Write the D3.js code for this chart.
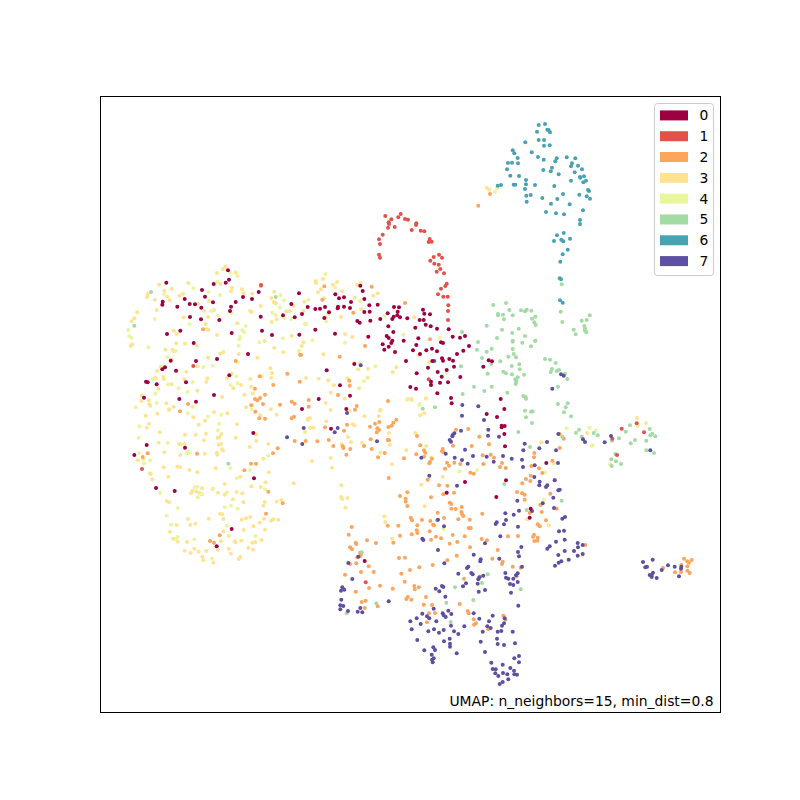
<!DOCTYPE html>
<html>
<head>
<meta charset="utf-8">
<script src="https://cdnjs.cloudflare.com/ajax/libs/d3/7.8.5/d3.min.js"></script>
<style>html,body{margin:0;padding:0;background:#fff}svg{display:block}text{font-family:"DejaVu Sans",sans-serif;font-size:13.89px;fill:#000}</style>
</head>
<body>
<svg id="chart" width="800" height="800"></svg>
<script>
const categories = ["0","1","2","3","4","5","6","7"];
const colors = ["#9e0142","#e25249","#fca55d","#fee491","#e9f69d","#a4daa4","#49a2b2","#5e4fa2"];
const title = "UMAP: n_neighbors=15, min_dist=0.8";
const xDomain = [0,620];
const yDomain = [0,616];

const points0 = [[128,174.3],[66.3,186.7],[113.7,188],[125.7,186.7],[129,183.7],[102,194],[158.7,196],[199,197.3],[105,200.7],[84.7,203],[143,201],[152,203],[62.7,205.7],[62.3,208.7],[89.7,208],[95,208.3],[113,206.3],[135.7,206],[77.3,210.7],[101.3,211.7],[131,210.7],[130,215],[191.3,208],[90,221],[101,223.3],[119.3,224],[160.7,220.7],[183,219.3],[194.7,221.3],[80.3,234.7],[67,238],[131.7,237],[162,234.7],[172,239],[199.3,238.7],[93.7,247],[148,258],[96,265],[117,263],[70.7,264.7],[65,271.3],[62.3,273.3],[76,274.7],[129.3,279.3],[46,285.7],[47.7,286.3],[56.7,288.3],[86,286.3],[79.3,303],[114,299],[96,305.7],[44,301.7],[153.3,337],[46.7,349],[85,351.7],[34.3,359],[154,382.3],[56,392],[74.7,395],[131.7,433],[116.7,450.3],
[235.3,198.3],[239,202.3],[244,201.3],[262.7,195],[260.3,189.7],[251,206],[264.3,203],[277.7,208.7],[269.3,209.3],[250,212],[238,210.7],[237.7,212.3],[244,210.7],[225,211],[220,212.7],[215.3,213],[207.7,211],[202,218],[229,216.3],[224.3,222],[264.3,216],[269.7,215.7],[287.7,217.3],[294,211],[299,211.3],[297.7,215.7],[293.7,220.7],[292.3,223],[297.3,219.3],[300,221.3],[307.3,222.3],[280.3,223],[257.3,225],[259.7,226.7],[270.3,224.7],[323,213.7],[324.3,217.7],[330,218.3],[319.7,224],[323.7,224],[325.7,228.7],[330.7,230.3],[337,232.7],[348.7,233.3],[315.3,231.7],[288.3,230.3],[293.3,236],[215.3,233.7],[235,237.7],[268.3,240.7],[286.7,240],[288.7,242],[318.3,242.3],[352.7,240.7],[360,241.7],[365,240],[303.7,244.7],[292.3,244.7],[291.3,247],[282.7,248.3],[288.7,250.7],[284.3,253.7],[295,256],[316.3,249],[313,254.3],[326.3,254.3],[332,252.7],[337,255.3],[341,246.3],[343,247],[369,250],[363.3,254.7],[357,258],[320,258],[306,265],[332.3,265],[342,262.3],[343,264.7],[349.3,263],[353,264.7],[354,270.7],[328,271.7],[337.7,276],[346.7,274],[316.7,277.3],[341.7,280.7],[360.3,281],[383.3,270.7],[388.7,264.3],[226.7,274.3],[240,289.3],[250,299.7],[218.7,303],[331,285.7],[331,289],[340,286.7],[348,286.3],[310.3,291],[316,292.7],[337.3,297.3],[351,302],[254.3,268],
[202,313],[246.3,313],[231,332.7],[351.7,307.3],[365,386],[346.7,396.7],[392,265.3],[400.7,303],[404.3,313],[386.7,318],[397,321],[401.7,329.7],[404.7,330],[401.7,331.3],[404.3,338],[405,350.3],[446.3,367],[406,384.3],[396.3,401],[430.7,412.7],[429.7,421.7],[264.7,465]];

const points1 = [[161,189],[285.3,120],[300.7,118],[298.3,121.3],[305,123],[308,123.7],[291.3,123.3],[288.7,126.3],[289,128],[288,131.7],[294.7,131],[316.3,127.3],[316,129],[311.7,134],[320.7,134.7],[324.3,135.3],[282.7,138.7],[279,143.3],[280,148],[329.7,143],[328.7,146],[331.7,145.7],[279,158.7],[280,161.7],[339,158.7],[342,161.7],[333.7,161],[330.3,164.7],[334.3,167.7],[338.7,168.7],[340.3,173],[336.7,175.7],[344,177.3],[346.7,187.7],[345.3,190],[341,192.7],[338,198.3],[343.3,200.7],[347.7,200.7],[348.3,209.3],[348,215],[348,224],[328.7,283.3],[93.3,270],[42,373],[512.3,342.7],[521.7,332.7],[536.7,327.3],[544,336.3],[517,359],[265.7,486.3]];

const points2 = [[161,190],[103,233.3],[135.7,265],[159.7,280.3],[187.3,277.7],[173.3,289],[155,292.7],[165,298.7],[160,302],[155,303],[157.3,304.3],[88,308],[151.3,309.3],[163,308],[180,308.7],[191.7,305.7],[194.7,307.7],[200,258.7],[80,315.3],[159.3,322.3],[165,322.7],[155.3,315.7],[191.7,322.3],[194,320.7],[194.7,345],[177.7,352.3],[173,357.3],[97,357.7],[47.7,357.3],[42.7,361],[151,367.7],[156,367.7],[144.3,374.3],[168.3,395.7],[182.7,407.3],[166,417.7],[119.7,439.3],[110,445],[114,446.7],
[378.3,109.7],[271.7,190.7],[224.3,190.3],[222.3,203.7],[305,207],[253.3,216.7],[330,243.3],[265,250],[201,259],[239.7,260.7],[199.7,285.7],[249.3,284.7],[249.7,289.7],[238,299],[208.7,304],[208.7,310.7],[256.7,310],[255,313.7],[288,305],[247,328.7],[225,331.3],[244,334.7],[279.3,326],[275,327.7],[270,330.7],[277.3,332.3],[279,334],[276.7,336.3],[288.3,331],[291.7,329.7],[293.3,326.7],[296.3,323.7],[205.7,345],[217.3,345.3],[228.7,344],[233.3,350],[242.7,350.3],[243.3,352],[250.3,353],[264,350],[270.7,343.3],[271.7,353],[287.7,344],[289,344.3],[246.3,358.7],[278,361.3],[284.7,357],[304,362.3],[317,340],[320.3,349.3],[324,354.3],[325.3,356.7],[316.3,358.3],[324,360.7],[332,362.7],[330,366],[329.3,367.3],[342.7,353],[342,355.3],[343.3,356],[353,349.7],[356,333.7],[368.3,333],[371.7,350],[379.3,340.7],[347,366.7],[349,369.7],[345,372.7],[354.3,366.7],[360.3,368],[370.3,376.7],[373.7,377.7],[288.7,382],[327.7,383.7],[339,389.3],[347.3,389.7],[354,396.7],[343.3,398.3],[307.3,396.3],[300,400],[331,401.3],[305.7,402.7],[305.7,405.7],[307.3,410],[349.7,406.7],[351.3,408],[351.3,412.7],[361.7,411],[355.7,413],[361.3,416],[363.3,420],[337.7,416.7],[344,422],[358.3,423.3],[369.7,423.7],[310.7,421.7],[312,424.3],[322,424],[330.3,425],[337,424.3],[333,428.7],[334,429.3],[317.3,429.3],[298.3,429.7],[287.7,429.7],[251.7,431],[368.7,432],[370.7,432],[329.7,435.3],[316.7,434.3],[311.7,438.3],[317.3,437],[300,439.7],[248.7,438.7],[267,444.3],[276,447],[255.7,446.7],[256.3,448],[250,451.3],[252,453.3],[293.3,446.7],[336,440.7],[331,443.7],[341,442.3],[352.7,439],[364.7,440.3],[357.3,446],[349.7,447.7],[370,451.3],[356.7,459.7],[299,462],[305,461.7],[261,458],[260.3,460],[257.3,461.3],
[389,348.3],[459.7,338],[463.7,342.7],[459.7,352],[390.7,358.7],[382.7,359.3],[394,361.7],[434.3,357],[434,361.3],[383.3,368],[402,367],[400,371],[405.7,372],[431.3,370],[439,372.3],[452.3,364.7],[442.3,377],[430.7,379.7],[426,383],[430.3,385],[422.3,387.3],[417,396],[422,397.3],[424.7,398.7],[424.7,403.7],[450.3,397.7],[454.7,384],[440.3,409],[456.7,412.7],[362,418],[382.3,417.7],[429.7,417],[441.7,416],[446,424.3],[437.7,428.3],[439.7,430.3],[381.7,443],[387,444.3],[408,440.3],[418,440],[434,438.7],[433,440.7],[437.7,441.7],[434.3,445],[437.3,444.7],[485.3,449],[397.7,454],[392.3,462.7],[402.7,465.7],[402,468],[412.7,470.7],[364,482.7],[380.3,480.7],[416.7,480.3],
[347.3,464.3],[332.7,469],[319.3,471.3],[310,474],[301.3,477.7],[304.7,485.7],[314.3,490],[314.7,493.3],[318.7,491.3],[292.7,492.7],[280,489.7],[269,492],[273.7,476],[268.7,470.3],[261,476],[256.3,467.3],[250,468],[245,478.7],[255.7,495.7],[260,456.7],[326,501],[307.7,501],[306.3,503],[311.3,503.7],[323.7,508.7],[332,509],[359.7,508],[265.7,504.7],[261.7,506],[264.7,512],[277.7,510.3],[329,517.3],[335,517],[327,526.3],[367.7,515],[368.7,517.3],[373.7,523.3],[376,527.3],[374,528.7],[388.3,533.3],[403.3,519.7],[405.3,523.7],[420.7,471.7],
[563,472],[584,462.7],[591.7,464],[587.3,465.3],[589,466.7],[587.3,470.3],[581.3,469],[587.3,474.7],[589.7,477],[575,476.3],[581,476],[390,98]];

const points3 = [[125.3,170.7],[123,173.3],[117,177],[135.7,176.7],[59,188.7],[88.3,187],[71.7,192.7],[120.3,188],[132,191.7],[131,195.3],[142,193.3],[143.7,197.3],[152.3,197.7],[174.3,195.7],[47.7,198],[47,201],[64.3,194.7],[67.3,200.7],[79.3,199.7],[83,197.7],[54.7,203.7],[69.7,204.3],[98.3,207.7],[109,205],[56.7,214],[37.3,216.3],[34.3,222.3],[31.7,225.3],[83.3,221.3],[104.3,215],[114,214],[108,221],[137.3,227.3],[150,215],[151.7,216],[160.7,210],[171.3,202],[173.7,206],[175.7,207.3],[186.3,215.3],[190,215.3],[193.7,209.7],[176.7,223.3],[171.7,226],[105.7,228],[106.7,233.3],[108.3,234],[73.7,234.7],[76.7,238],[117,239],[30.7,250],[32.3,248.3],[85,247.7],[76.3,247.3],[96.7,249.7],[65.3,253.7],[72.3,253.7],[74,255.3],[191.7,239.7],[164.7,245],[174.3,251.7],[183.3,256.3],[138.7,258],[123.3,256],[120.3,257.7],[108,261.7],[157.3,261.7],[71.3,263.7],[97.3,270.3],[61.7,271],[57,275],[86.3,275.7],[76.7,274.7],[132,277.7],[127,282],[107.3,282.3],[106.3,286],[63.3,281],[63.7,283],[55.7,282],[84.3,283.3],[170.3,272.3],[172,277],[171.3,281.7],[150.3,283],[151,290.7],[133.3,292.3],[141,289],[71.7,288.3],[58.3,292.7],[97.3,294.7],[122,301],[144.3,298.7],[153,297.7],[41.7,299.7],[41.3,305],[48.7,304.3],[49.3,308.3],[50.3,309.7],[66.3,307.3],[73.7,310.7],[69,313.3],[92.7,310.7],[146,311.3],
[45.7,319.7],[57.3,317.7],[69,314],[93.3,321.3],[114,316],[127.3,317.3],[105,324.7],[98.7,328.7],[137,328.3],[160.3,319.3],[170.7,313.3],[176.7,318.7],[49,327.7],[46.7,331.7],[59.7,336.3],[85,338.7],[95.7,338.7],[106,337.7],[104,344.3],[121.3,338],[117.7,341.7],[119.3,341.3],[135.7,341.7],[156.3,338.3],[156.3,345],[168.3,348],[149.7,351],[58.7,346.7],[79,348.3],[80.3,348.3],[84.7,348],[121,348],[118.7,348.7],[122,353.3],[123,354.7],[64.3,356.3],[80.3,359],[104.7,357.7],[116.7,356.7],[117.3,358.7],[38,364.3],[43.3,363],[163.3,362.7],[63.7,371.3],[77.3,370.7],[80,371.3],[89.3,374],[97.3,376.3],[115.7,372.3],[49.7,377.3],[50.7,378],[68.3,380.7],[52.3,383.3],[140.3,380.7],[168.7,376.3],[165.7,386.3],[193.7,387.3],[124.7,388],[151.3,390.3],[160.7,391],[91,397.3],[92.3,394.7],[96.3,395.3],[99.3,396.7],[102,392.3],[102,398.3],[113,392.7],[118,396.7],[124.7,398.7],[136.7,396],[142.3,397.3],[133,403.3],[143.3,406.3],[66.7,405],[69,406.3],[164.7,406],[163.3,409.7],[176.7,405.7],[181.3,404],[108.7,422.7],[88,423],[120,417.7],[122.3,418.3],[123.3,423],[141.7,423.7],[146,422.3],[150.3,421],[164,422.7],[178.3,423.7],[171.3,424.7],[173.3,423.3],[159.7,426.7],[153.3,430.3],[76.7,429],[90.3,429],[95.3,427.7],[143.7,434],[165,433.7],[123.3,435.3],[128.7,440],[70,435.7],[73,442.7],[77.7,445.7],[87,446],[120.7,445.3],[134.7,445.3],[135.3,446.3],[141.3,444.7],[152.3,446.7],[155.3,446.3],[161.3,444],[94.3,452.7],[84.7,454.7],[90.7,457],[98.7,455.7],[106.3,455],[118,454],[128.7,452.7],[130.7,457.7],[148.3,452],[153,453.7],[102.3,460.7],[103.3,464.3],[113.3,466.7],[138.7,463],[140.3,461],
[215.7,185],[216,187],[223,183],[237,186],[233,188.7],[221,193.3],[218,196.3],[242.3,195.3],[257.3,188.7],[277.7,197.3],[273,199.7],[254.7,201.7],[224.3,202.3],[204.3,205.7],[243.3,210.7],[261,213.3],[203.3,214.7],[241,221],[226,221.3],[314.3,221.3],[206,228],[245,238.3],[252.3,241],[203.3,246.3],[201.7,250],[223.3,258.3],[258.3,273.3],[268,272.7],[296.3,271.3],[292.7,276.3],[206,282],[218.7,282.7],[228.3,284.3],[247.3,282.3],[267.7,281.7],[233.7,289.3],[259,292.3],[230.7,296.7],[244.7,302.7],[307.7,303],[311.3,303],[326,302.3],[260,267.3],[254.3,267.3],[329.3,266.3],[318.3,259],
[225.7,307],[230.7,314],[249.7,315],[264.3,320.3],[278.7,320],[280.7,313.7],[280,314.7],[207.7,322.7],[210,322],[208,324],[226.3,325.3],[252.7,328.3],[254.3,329.3],[210.3,331.7],[213.3,331.7],[205,336],[289,337],[248,341],[251,346],[241.7,348.3],[262,346.7],[290,348.7],[315.3,337],[326,350],[306.3,354.3],[280.3,356.7],[230.7,362],[212,365],[292,368.3],[232,371.7],[331,361.7],[342.7,380.7],[321.3,388.7],[241.3,389.3],[241,401],[242,403],[247.3,402],[245.3,411.7],[324.7,410.3],[284.3,420.3],[285.3,426],[292,442.7],[320.3,319.3],[324.3,317.3],[325.7,302.7],[311.7,304],
[441.3,346.3],[453.7,367.3],[492,349.7],[487,337],[537,322],[546,327.3],[537.7,329.7],[510.3,368.3],[427.3,423.3],[448.7,429.3],[386.7,91.7],[389.3,93.7]];

const points4 = [[130.3,176.3],[137.3,180],[117.3,185.7],[93.3,192.3],[108.3,195.7],[120,199],[64.3,198],[180.3,199],[184,204.3],[180,211.7],[172.3,216.7],[175.7,219],[191.3,223],[184.3,221.7],[111,215.3],[131.3,217.3],[118.3,219.7],[54.7,223],[89.7,228],[145.7,230],[142.3,234.3],[144.3,236.3],[140.3,241],[139.3,243.3],[28.3,234],[29.3,240],[31.3,241.7],[48.3,251.3],[159.3,246.3],[182.7,242.3],[138.7,249.7],[75.7,255],[67.3,261],[198.7,255.3],[137.7,266.3],[112.7,269.7],[103.3,271],[60.3,271],[53,283],[68,288.3],[92.7,286],[78.7,292.3],[87.7,295.7],[55.3,297.7],[130.7,289.3],[136.3,280.3],[137.7,287.3],[162,280.3],[56.7,307],[35.7,311.3],
[108,320.7],[87.7,317.3],[121.3,318.7],[119,327.7],[118,334.3],[39.3,330.3],[38.7,341.7],[67.7,346.7],[151.7,313.3],[39,357],[44,367.3],[50,364.3],[86.7,357.3],[88,355.7],[88.7,357.3],[168.3,359.7],[130.3,372],[150,374],[136.7,382.3],[60.3,396.7],[94.7,391.3],[97.3,390.7],[112.3,393],[97.7,401.3],[101,398.3],[127,396.3],[165,393.3],[77.7,412],[124.7,411.3],[131,409.7],[137.7,412.7],[66.7,419.7],[71,428.7],[127,429.7],[77.7,441],[75.7,442.7],[94.3,443.3],[155.3,440],[112,462.7],
[225.3,178],[235,191.3],[260.7,186.7],[208.3,203.7],[260,205],[228.3,218],[226.3,225.3],[284.3,219.7],[205,228],[212.3,244.3],[245,246.7],[303.3,238.7],[199.3,255],[264,285.3],[275.3,270.3],[346.7,276.7],[340,241.7],[307,303.7],[319.7,308],[319.3,309.3],[359.3,375.3],[377,374.3],[343.3,433.3],[466.7,332.3],[489.7,331.7],[496,334.3],[492.7,349.3],[445,376.7],[443.7,404],[482.3,460],[395,96],[397,92.3]];

const points5 = [[51,196],[34.3,229.7],[175.7,201],[128.3,367.7],[386.7,229.7],[362,236],[378,246],[377,253.7],[386.7,255.7],[382,262],[361,270.3],[387.7,277.7],[374,290.7],[362.7,298],[384.3,295],[335,311.3],[322.7,312.7],[261.7,456.3],[276.3,507.3],[246.7,517.3],[355,491.3],[346.3,506.7],[350.7,526],[373.3,504],[387.7,478.3],[382,487],[420.7,493.3],
[391.7,252.7],[391.3,268],[400.3,265.3],[408.3,260.7],[413.7,258],[416,261.3],[412.7,244.7],[412.7,253],[422.3,246.7],[431,250.3],[435.3,244.7],[411.7,270],[419.3,268.3],[419.7,273.3],[403.3,275.7],[406,277.3],[412,278.3],[424,278.7],[417.7,281.3],[415.3,283.3],[416.3,284.7],[415.7,288],[416,286.3],[445,263],[450,263.7],[455.7,267],[452,273],[450.7,276],[456.7,275],[459,274],[465,277.7],[467.3,283],[458,290.7],[391.7,290.7],[407.3,296.7],[423.3,300],[425.7,301],[426,302.7],[458,308],[467.7,307.3],[465.7,311.3],[464,316.3],[425,314.7],[431,315.7],[432.7,315.3],[426,321.3],[432,327],[471,320.3],[418.3,336],[430,351],[462.3,340.7],[479,333.7],[476,336.7],[493.7,337],[497.7,339.3],[481.7,340.7],[530,329.3],[525.7,335.7],[519,342.3],[512,344.7],[535,344],[530.7,347.3],[549.7,333],[552.3,337.7],[550.3,339.3],[555.3,340.3],[546.3,344.7],[546.3,354.3],[554,357],[515.3,358],[511.3,363.3],[516,365.3],[521,368],[511.7,370],[404.3,388],[461.7,404.7],[426.7,414],
[461.7,188.3],[460.7,215.7],[462.3,226],[393.3,209],[406,207],[398,218],[398,219.3],[403,218.7],[409.3,214],[412.7,219.3],[421,214.3],[425,215.3],[426.7,213.7],[431.3,214.7],[435.3,220.7],[432,222.7],[404,223.3],[434.3,226.3],[435.7,229],[402,233.7],[418.7,232.7],[412.3,237],[425,240],[397,242],[412.7,245.7],[435.3,244.7],[489.7,219.3],[486.7,224],[481.7,224.7],[484.3,230],[485,232.3],[484.7,234.3],[486.3,236.3],[473.7,233.7],[475.7,238.3]];

const points6 = [[438.7,29],[445,28],[447.3,33.7],[448.7,34],[437,35.7],[450,36.3],[438.7,44],[444,44],[425.3,46.3],[444,49.7],[449.7,49.3],[412.7,54.3],[414.3,57.3],[431.7,56.3],[417.7,62],[438,61],[443.7,63.7],[456.7,62.3],[455.3,65.3],[466.7,61.3],[475.3,62.3],[408,67],[412,66.7],[418,67.3],[472,67.3],[471,70.3],[478,69.7],[407,73.3],[452,71.7],[443.3,74],[450.7,75.3],[482,73.3],[474.7,76.3],[458.7,78.3],[410.3,79.7],[419,80],[480,81],[480.3,81.7],[484,80.3],[426,84],[471,84.7],[486,84.7],[483.3,86.3],[426,88.3],[413.7,88.7],[415.3,88.7],[435,89],[454.3,90],[401,89],[397.7,89.7],[425,93],[488,94],[489,95],[463,98],[426.3,99.7],[430.7,99],[479.3,98.7],[486.7,100.3],[490,102.7],[442.3,102],[457.3,103],[426.7,105.7],[451,107.7],[469.7,108.3],[483,114.3],[446,116],[456,117.3],[464,118.3],[480,124],[480,128],[463.7,137],[457,139.3],[461.3,143.7],[463.3,145.3],[454,145],[470,142.7],[467.7,153.7],[462.7,158.3],[460.3,165.7],[459.7,182.3],[461,183.3],[460,204.3],[462.7,206.7]];

const points7 = [[187,341.3],[260.7,269.3],[334.3,265],[247,317],[203.7,332],[237.7,332],[234.7,336.3],[202.3,348],[277,345.3],[362.3,309],[378.3,310.3],[362,319.7],[361,334.7],[354.3,337.3],[352.7,339],[352.3,340.3],[349.7,344],[351,345.7],[345.7,357.7],[365,353.7],[354.7,361.7],[373,360],[362,364],[367.7,367.7],[321.3,361.7],[329.3,379.7],[357,389.7],[338,423.7],[344,430.3],[322.3,442.7],[323.3,444],[338,454],[373.7,458.7],[258.3,460.7],
[461,278.3],[463.7,279.7],[452.3,292.7],[384,324],[388.3,333.7],[388,339.7],[399,340.7],[424.7,347.7],[423.3,354.3],[439.3,352.3],[447,346],[456,354.3],[458.3,338],[483,343.3],[485,346],[504.7,346.3],[511,340],[550.3,354.3],[386.7,360.7],[403,360],[393.7,365.7],[411.7,362.7],[422,363.7],[423,371],[434.7,369.3],[458,367],[434.3,381],[439.7,385.7],[439.3,389.3],[454.7,384.3],[447.3,389.3],[446,391],[458.3,394.3],[459.7,393.7],[453.3,401.7],[417.3,404.7],[442.7,407.3],[454,412],[432,415],[419,414.7],[405.3,417.3],[413.7,418.7],[406,424],[396.7,426.3],[395.7,428],[404,428.3],[418,430.7],[465,421],[462.3,422.7],[459,435.3],[464,434.7],[400.3,440.3],[464.7,443.7],[456,445.7],[449.7,450.3],[447.3,452.7],[421.3,451],[385,447.3],[418,456],[419,460.3],[380.7,463.3],[380.3,465.3],[399.3,462.7],[458.3,459],[464.7,455],[477.7,447],[478,451.3],[482.7,449],[474,455],[477.7,459.7],[482.7,458],[468.7,463.7],[461.3,465.3],[458.7,466.7],[455,469.7],[368.3,470.7],[367,472],[422,470.7],[358.3,477.7],[371.3,477],[372.7,478.3],[383.3,479.7],[405.3,477],[417.7,477.3],[416,479.3],[379.3,481.3],[406,481.7],[408.3,482.7],[413.3,482.7],
[248.3,467],[252.3,483],[344.3,467.3],[378.3,483.3],[377.7,487.7],[366,487.3],[363,490.3],[378.7,495.7],[385,494],[417.7,486],[413.3,489],[410,488],[411,496.7],[242.3,491.3],[241,494.7],[244.3,493.7],[241.3,503.7],[240.3,509.3],[243.3,510],[240.3,513.3],[248,515],[257.7,515.7],[262.3,516.3],[260.3,512],[288.7,505.3],[335.7,492.7],[339.3,495.3],[342,490],[343.3,491],[345.3,500.7],[333.7,512.7],[322.3,517.7],[327,520.3],[329.3,522.3],[316.7,522.3],[310.3,525.3],[320.7,528],[336.3,525.3],[342.7,517.3],[343.7,519.3],[345.7,521],[348.3,514.7],[351.3,518],[351,529.7],[311.7,533.3],[328.3,535.3],[334,533.3],[339,536.7],[343.7,534],[354,535.3],[358.3,538],[364.3,530.3],[317.3,544],[344,545.3],[349.7,542.7],[350,547.7],[350,550.7],[324.3,554.3],[333.3,551.3],[335,554],[356.7,557.3],[331.7,558.7],[333.7,562.3],[332,563.7],[332.7,566.3],[373.7,517.3],[379.3,522.7],[392.7,519.7],[389,525.3],[387.3,530.3],[390.7,532],[382.7,535.7],[404,527.3],[402,529.7],[404.7,522.3],[397.7,535.7],[401.3,535],[412.7,535.7],[397,542.7],[397.7,548],[404,549],[415,547.3],[380.7,545.7],[385,556],[418.3,509.7],[391.3,566.7],[414.3,562.3],[419,560],[419,566.3],[402.7,568.7],[392.7,573],[395.7,573.3],[410.3,572],[414,574.7],[395.3,577.3],[398.3,580],[403,577],[407.3,578.3],[414.3,578.3],[417,578.7],[408.3,583.3],[402.7,586],[399.7,588],
[543,466],[552.7,463.7],[547,470.7],[545.3,471.3],[568,469.3],[561.7,474],[553,476.7],[551.7,479],[549.7,479],[551.7,481],[556.7,482],[574.7,470.7],[581.3,470.7],[581,472.7],[579,480.3]];

const allPoints = [points0,points1,points2,points3,points4,points5,points6,points7];
const drawOrder = [3,4,2,5,1,6,7,0];

const plot = {left:100.5, top:96.5, width:620, height:616};
const svg = d3.select("#chart");
const x = d3.scaleLinear().domain(xDomain).range([plot.left, plot.left+plot.width]);
const y = d3.scaleLinear().domain(yDomain).range([plot.top, plot.top+plot.height]);

const marks = svg.append("g");
drawOrder.forEach(i => {
  marks.append("g").selectAll("circle").data(allPoints[i]).join("circle")
    .attr("cx", d => x(d[0]) - 0.5).attr("cy", d => y(d[1]) - 0.5)
    .attr("r", 2).attr("fill", colors[i]);
});

svg.append("rect").attr("x",plot.left).attr("y",plot.top).attr("width",plot.width).attr("height",plot.height)
  .attr("fill","none").attr("stroke","#000").attr("stroke-width",1);

const legend = svg.append("g");
legend.append("rect").attr("x",654.5).attr("y",103.5).attr("width",59).attr("height",172).attr("rx",3)
  .attr("fill","#fff").attr("fill-opacity",0.8).attr("stroke","#ccc").attr("stroke-width",1);
const row = d3.scaleBand().domain(categories).range([105,271.5]);
const rows = legend.selectAll("g").data(categories).join("g")
  .attr("transform", d => `translate(0,${row(d)+row.bandwidth()/2})`);
rows.append("rect").attr("x",660).attr("y",-5).attr("width",28).attr("height",10).attr("fill",(d,i)=>colors[i]);
rows.append("text").attr("x",699.5).attr("y",5).text(d=>d);

svg.append("text").attr("x",713.5).attr("y",706).attr("text-anchor","end").text(title);
</script>
</body>
</html>
